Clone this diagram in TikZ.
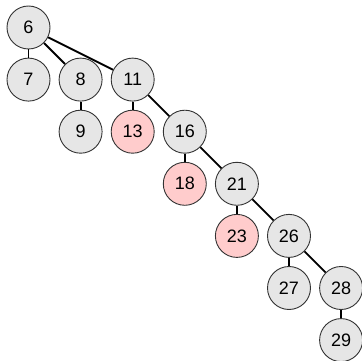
\documentclass[tikz,border=0pt]{standalone}
\usepackage{fontspec}
\setmainfont{Liberation Sans}
\definecolor{nodegray}{HTML}{E6E6E6}
\definecolor{nodepink}{HTML}{FFCCCC}
\definecolor{rimcol}{HTML}{333333}
\begin{document}
\begin{tikzpicture}[x=1pt,y=-1pt,
  tn/.style={circle,draw=rimcol,line width=0.9pt,fill=nodegray,minimum size=43pt,inner sep=0pt,font=\fontsize{18}{21}\selectfont},
  pk/.style={tn,fill=nodepink},
  edge/.style={line width=1.8pt,black}]
\useasboundingbox (0,0) rectangle (362,361);
\node[tn] (n6) at (28.5,27.5) {6};
\node[tn] (n7) at (28.5,79.6) {7};
\node[tn] (n8) at (80.6,79.6) {8};
\node[tn] (n11) at (132.7,79.6) {11};
\node[tn] (n9) at (80.6,131.7) {9};
\node[pk] (n13) at (132.7,131.7) {13};
\node[tn] (n16) at (184.8,131.7) {16};
\node[pk] (n18) at (184.8,183.8) {18};
\node[tn] (n21) at (236.9,183.8) {21};
\node[pk] (n23) at (236.9,235.9) {23};
\node[tn] (n26) at (289.0,235.9) {26};
\node[tn] (n27) at (289.0,288.0) {27};
\node[tn] (n28) at (341.1,288.0) {28};
\node[tn] (n29) at (341.1,340.1) {29};
\draw[edge] (n6) -- (n7);
\draw[edge] (n6) -- (n8);
\draw[edge] (n6) -- (n11);
\draw[edge] (n8) -- (n9);
\draw[edge] (n11) -- (n13);
\draw[edge] (n11) -- (n16);
\draw[edge] (n16) -- (n18);
\draw[edge] (n16) -- (n21);
\draw[edge] (n21) -- (n23);
\draw[edge] (n21) -- (n26);
\draw[edge] (n26) -- (n27);
\draw[edge] (n26) -- (n28);
\draw[edge] (n28) -- (n29);
\end{tikzpicture}
\end{document}
